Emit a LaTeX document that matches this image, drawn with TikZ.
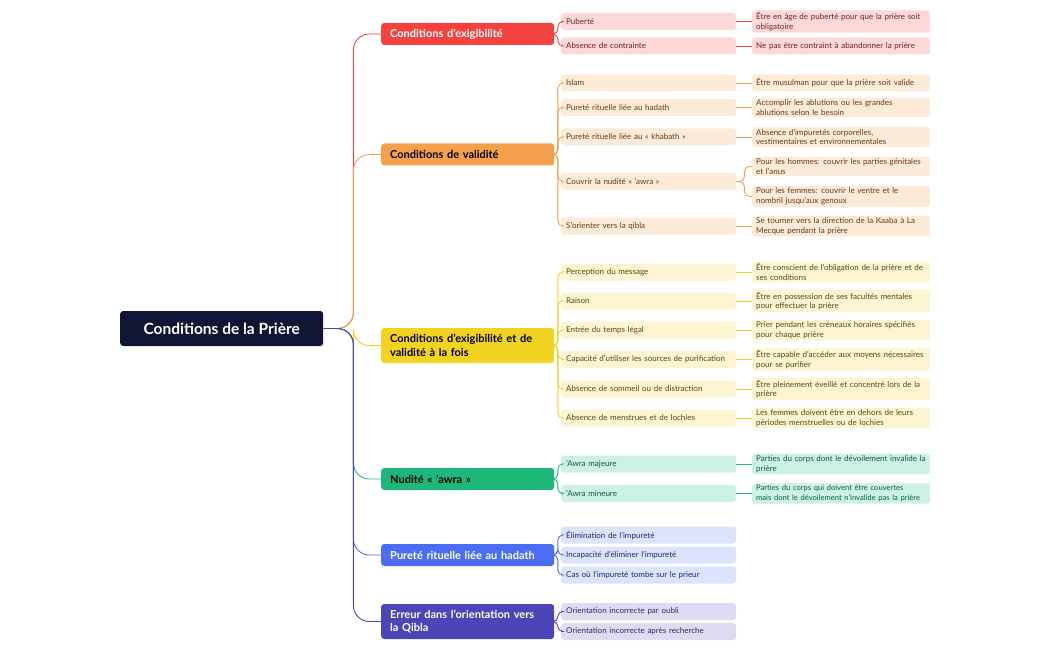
\documentclass[tikz,border=0pt]{standalone}
\usepackage{fontspec}
\setmainfont{Lato}
\usetikzlibrary{calc}
\definecolor{rA}{HTML}{F4433F}\definecolor{rAl}{HTML}{FDD9DA}\definecolor{rAt}{HTML}{7A1F1F}
\definecolor{rB}{HTML}{F5A04C}\definecolor{rBl}{HTML}{FDEBDA}\definecolor{rBt}{HTML}{6B3A10}
\definecolor{rC}{HTML}{F2D322}\definecolor{rCl}{HTML}{FDF4D2}\definecolor{rCt}{HTML}{5A4A10}
\definecolor{rD}{HTML}{1DB87A}\definecolor{rDl}{HTML}{CDF2E3}\definecolor{rDt}{HTML}{0F5A3E}
\definecolor{rE}{HTML}{4B6EF5}\definecolor{rEl}{HTML}{DDE3FD}\definecolor{rEt}{HTML}{1D2C6B}
\definecolor{rF}{HTML}{4B45B8}\definecolor{rFl}{HTML}{DEDCF2}\definecolor{rFt}{HTML}{2E2A6B}
\definecolor{navy}{HTML}{0F1533}
\tikzset{
 every node/.append style={execute at begin node={\hyphenpenalty=10000\exhyphenpenalty=10000}},
 rootbox/.style={fill=navy,text=white,rounded corners=3pt,minimum width=203pt,minimum height=35pt,font=\fontsize{15.5}{17}\selectfont\bfseries,anchor=west},
 lone/.style={rounded corners=3pt,text width=155pt,inner xsep=9pt,minimum height=22pt,align=left,font=\fontsize{11}{13.5}\selectfont\bfseries,anchor=west},
 ltwo/.style={rounded corners=3pt,text width=165pt,inner xsep=5pt,inner ysep=2pt,minimum height=17pt,align=left,font=\fontsize{8}{9}\selectfont,anchor=west},
 lthree/.style={rounded corners=3pt,text width=170pt,inner xsep=4pt,inner ysep=2pt,minimum height=17pt,align=left,font=\fontsize{8}{9.5}\selectfont,anchor=west},
 link/.style={line width=0.9pt},
}
\begin{document}
\begin{tikzpicture}[x=1pt,y=-1pt]
\useasboundingbox (0,0) rectangle (1050,650);
\node[rootbox] (root) at (120,328.5) {Conditions de la Prière};
\node[lone,fill=rA,text=white] (A) at (381,34) {Conditions d'exigibilité};
\node[lone,fill=rB,text=black] (B) at (381,154.5) {Conditions de validité};
\node[lone,fill=rC,text=black,minimum height=35pt] (C) at (381,345.5) {Conditions d'exigibilité et de validité à la fois};
\node[lone,fill=rD,text=black] (D) at (381,479) {Nudité « 'awra »};
\node[lone,fill=rE,text=white] (E) at (381,555) {Pureté rituelle liée au hadath};
\node[lone,fill=rF,text=white,minimum height=35pt] (F) at (381,621.5) {Erreur dans l'orientation vers la Qibla};
\foreach \n/\c in {A/rA,B/rB,C/rC,D/rD,E/rE,F/rF}
 \draw[link,\c,rounded corners=16pt] (root.east) -- ++(30,0) |- (\n.west);
\newcommand\Two[5]{\node[ltwo,fill=#3l,text=#3t] (#1) at (561,#4) {#5};
 \draw[link,#3,rounded corners=5pt] (#2.east) -- ++(3.5,0) |- (#1.west);}
\newcommand\Three[5]{\node[lthree,fill=#3l,text=#3t] (#1) at (752,#4) {#5};
 \draw[link,#3] (#2.east) -- (#1.west);}
\newcommand\ThreeB[5]{\node[lthree,fill=#3l,text=#3t] (#1) at (752,#4) {#5};
 \draw[link,#3,rounded corners=5pt] (#2.east) -- ++(8,0) |- (#1.west);}
\Two{a1}{A}{rA}{21.5}{Puberté}
\Three{a1x}{a1}{rA}{21.5}{Être en âge de puberté pour que la prière soit obligatoire}
\Two{a2}{A}{rA}{46}{Absence de contrainte}
\Three{a2x}{a2}{rA}{46}{Ne pas être contraint à abandonner la prière}
\Two{b1}{B}{rB}{83}{Islam}
\Three{b1x}{b1}{rB}{83}{Être musulman pour que la prière soit valide}
\Two{b2}{B}{rB}{107.5}{Pureté rituelle liée au hadath}
\Three{b2x}{b2}{rB}{107.5}{Accomplir les ablutions ou les grandes\\ablutions selon le besoin}
\Two{b3}{B}{rB}{137}{Pureté rituelle liée au « khabath »}
\Three{b3x}{b3}{rB}{137}{Absence d'impuretés corporelles,\\vestimentaires et environnementales}
\Two{b4}{B}{rB}{181.5}{Couvrir la nudité « 'awra »}
\ThreeB{b4x}{b4}{rB}{166.5}{Pour les hommes: couvrir les parties génitales et l'anus}
\ThreeB{b4y}{b4}{rB}{196.5}{Pour les femmes: couvrir le ventre et le nombril jusqu'aux genoux}
\Two{b5}{B}{rB}{226}{S'orienter vers la qibla}
\Three{b5x}{b5}{rB}{226}{Se tourner vers la direction de la Kaaba à La Mecque pendant la prière}
\Two{c1}{C}{rC}{272}{Perception du message}
\Three{c1x}{c1}{rC}{272}{Être conscient de l'obligation de la prière et de ses conditions}
\Two{c2}{C}{rC}{301}{Raison}
\Three{c2x}{c2}{rC}{301}{Être en possession de ses facultés mentales pour effectuer la prière}
\Two{c3}{C}{rC}{330}{Entrée du temps légal}
\Three{c3x}{c3}{rC}{330}{Prier pendant les créneaux horaires spécifiés pour chaque prière}
\Two{c4}{C}{rC}{359.5}{Capacité d'utiliser les sources de purification}
\Three{c4x}{c4}{rC}{359.5}{Être capable d'accéder aux moyens nécessaires pour se purifier}
\Two{c5}{C}{rC}{389}{Absence de sommeil ou de distraction}
\Three{c5x}{c5}{rC}{389}{Être pleinement éveillé et concentré lors de la prière}
\Two{c6}{C}{rC}{418}{Absence de menstrues et de lochies}
\Three{c6x}{c6}{rC}{418}{Les femmes doivent être en dehors de leurs périodes menstruelles ou de lochies}
\Two{d1}{D}{rD}{464}{'Awra majeure}
\Three{d1x}{d1}{rD}{464}{Parties du corps dont le dévoilement invalide la prière}
\Two{d2}{D}{rD}{493.5}{'Awra mineure}
\Three{d2x}{d2}{rD}{493.5}{\fontsize{7.6}{9.5}\selectfont Parties du corps qui doivent être couvertes\\mais dont le dévoilement n'invalide pas la prière}
\Two{e1}{E}{rE}{535}{Élimination de l'impureté}
\Two{e2}{E}{rE}{555}{Incapacité d'éliminer l'impureté}
\Two{e3}{E}{rE}{575}{Cas où l'impureté tombe sur le prieur}
\Two{f1}{F}{rF}{611.5}{Orientation incorrecte par oubli}
\Two{f2}{F}{rF}{631.5}{Orientation incorrecte après recherche}
\end{tikzpicture}
\end{document}
